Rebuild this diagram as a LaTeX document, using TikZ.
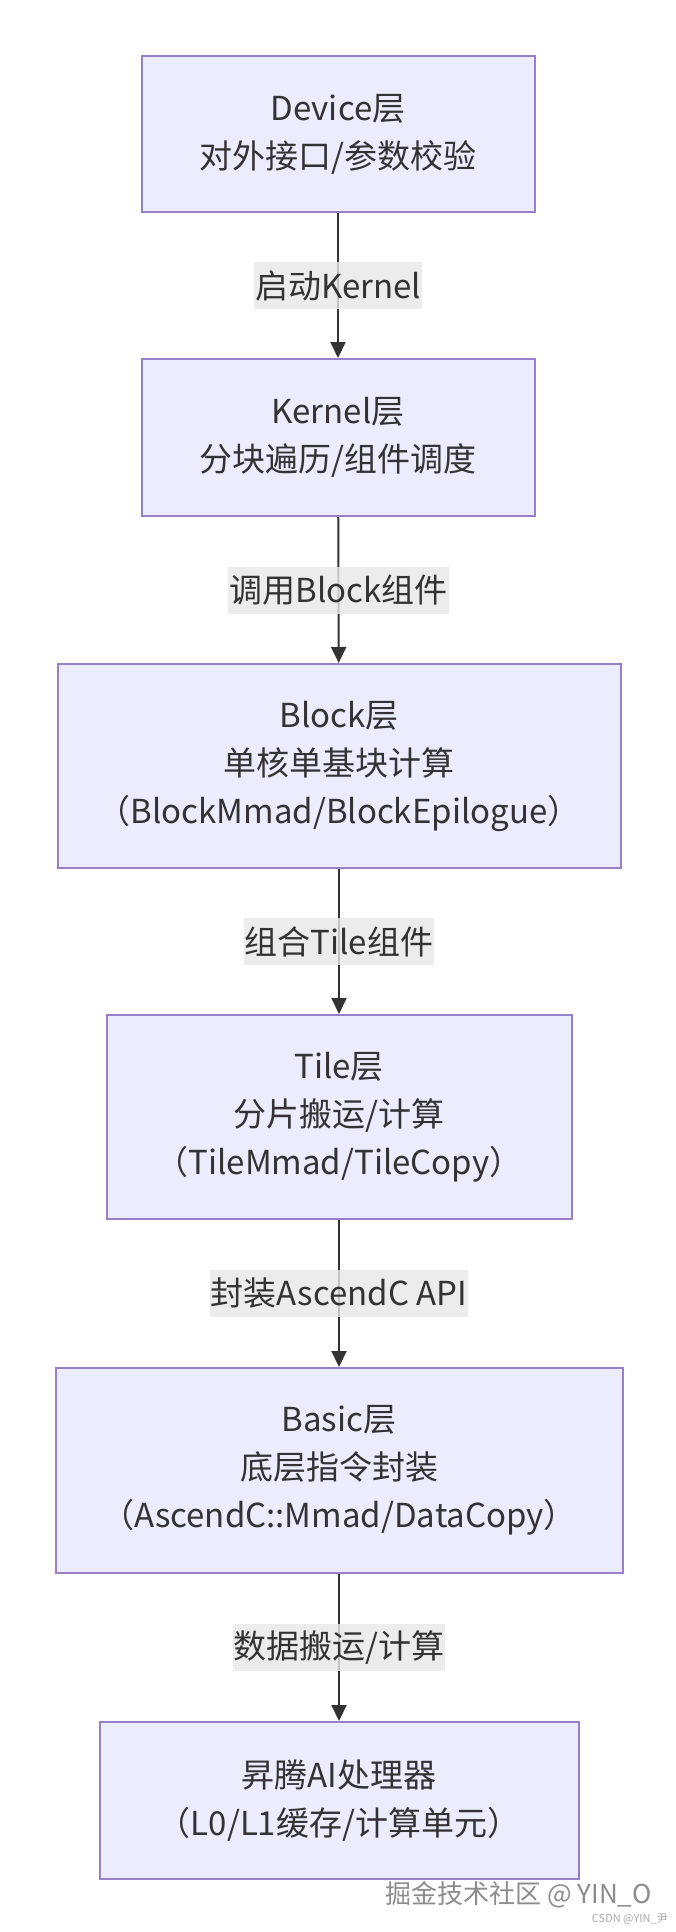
\documentclass[tikz,border=0pt]{standalone}
\usepackage{fontspec}
\setmainfont{Noto Sans CJK SC}
\usetikzlibrary{arrows.meta}

\begin{document}
\begin{tikzpicture}[x=1pt,y=1pt,yscale=-1,xscale=1,
  layer/.style={draw={rgb, 255:red, 152; green, 128; blue, 200},line width=2pt,
    fill={rgb, 255:red, 236; green, 236; blue, 255},text={rgb, 255:red, 51; green, 51; blue, 51},
    align=center,inner sep=0pt,font=\fontsize{33}{48}\selectfont},
  elabel/.style={fill={rgb, 255:red, 232; green, 232; blue, 232},fill opacity=0.8,text opacity=1,
    text={rgb, 255:red, 51; green, 51; blue, 51},inner xsep=1pt,inner ysep=0pt,minimum height=47pt,
    font=\fontsize{33}{40}\selectfont},
  flow/.style={draw={rgb, 255:red, 51; green, 51; blue, 51},line width=2pt,
    -{Triangle[width=15pt,length=16pt]}}]
\useasboundingbox (0,0) rectangle (675,1932);
\fill[white] (0,0) rectangle (675,1932);

%Shape: Rectangle [id:device]
\node[layer,minimum width=393pt,minimum height=156pt] (device) at (338,134) {Device层\\对外接口/参数校验};
%Shape: Rectangle [id:kernel]
\node[layer,minimum width=393pt,minimum height=157pt] (kernel) at (338,437.5) {Kernel层\\分块遍历/组件调度};
%Shape: Rectangle [id:block]
\node[layer,minimum width=563pt,minimum height=204pt] (block) at (339,766) {Block层\\单核单基块计算\\（BlockMmad/BlockEpilogue）};
%Shape: Rectangle [id:tile]
\node[layer,minimum width=465pt,minimum height=204pt] (tile) at (339,1117) {Tile层\\分片搬运/计算\\（TileMmad/TileCopy）};
%Shape: Rectangle [id:basic]
\node[layer,minimum width=567pt,minimum height=205pt] (basic) at (339,1470.5) {Basic层\\底层指令封装\\（AscendC::Mmad/DataCopy）};
%Shape: Rectangle [id:npu]
\node[layer,minimum width=479pt,minimum height=157pt] (npu) at (339,1800.5) {昇腾AI处理器\\（L0/L1缓存/计算单元）};

%Straight Lines
\draw[flow] (device) -- node[elabel] {启动Kernel} (kernel);
\draw[flow] (kernel) -- node[elabel] {调用Block组件} (block);
\draw[flow] (block) -- node[elabel] {组合Tile组件} (tile);
\draw[flow] (tile) -- node[elabel] {封装AscendC API} (basic);
\draw[flow] (basic) -- node[elabel] {数据搬运/计算} (npu);

% Text Node
\node[anchor=east,text={rgb, 255:red, 140; green, 140; blue, 140},font=\fontsize{26}{30}\selectfont,inner sep=0pt] (mark) at (652,1895) {掘金技术社区 @ YIN\_O};
% Text Node
\node[anchor=east,text={rgb, 255:red, 170; green, 170; blue, 170},font=\fontsize{11}{13}\selectfont,inner sep=0pt] (csdn) at (668,1919) {CSDN @YIN\_尹};
\end{tikzpicture}
\end{document}
